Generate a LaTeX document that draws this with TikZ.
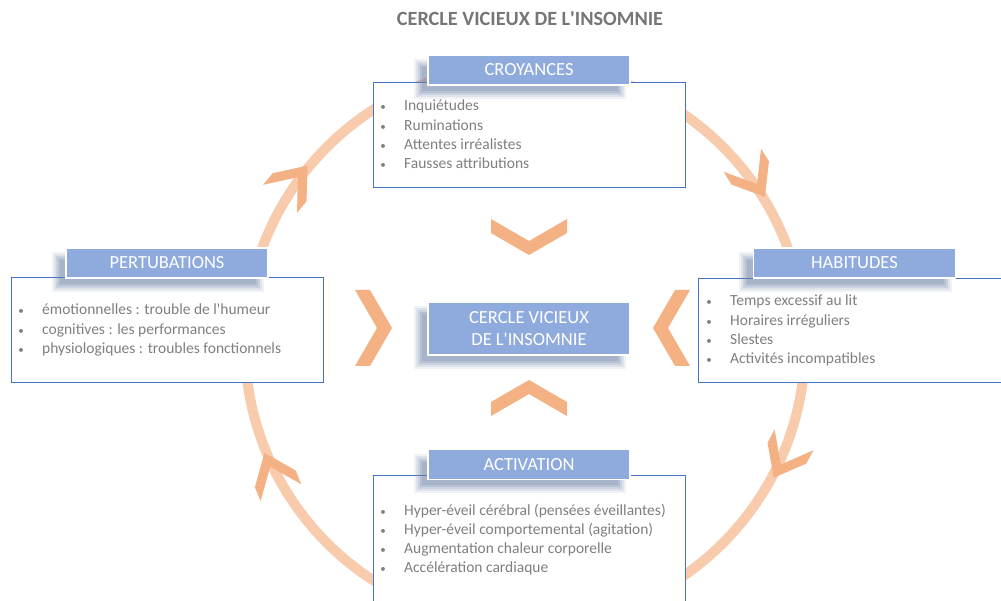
\documentclass[tikz,border=0pt]{standalone}
\usepackage{fontspec}
\setmainfont{Carlito}
\usetikzlibrary{calc}
\definecolor{ringc}{HTML}{F8CBAD}
\definecolor{chevc}{HTML}{F4B183}
\definecolor{headc}{HTML}{8FAADC}
\definecolor{bordc}{HTML}{4472C4}
\definecolor{txtc}{HTML}{7F7F7F}
\definecolor{titc}{HTML}{767676}
\definecolor{shadc}{HTML}{7385AA}
\newcommand\softshadow[4]{%
  \foreach \e/\o in {5/0.10,3/0.14,1/0.18,-1/0.22,-3/0.22}{%
    \fill[shadc,opacity=\o] ({#1-\e},{#2-\e}) rectangle ({#3+\e},{#4+\e});}}
\begin{document}
\begin{tikzpicture}[x=1pt,y=-1pt,
  header/.style={draw=white,line width=1.2pt,fill=headc,text=white,
    font=\fontsize{18.5}{22}\selectfont,inner sep=0pt,minimum width=202pt,minimum height=30pt},
  bodybox/.style={draw=bordc,line width=1pt,fill=white,inner sep=0pt,anchor=north west},
  item/.style={font=\fontsize{15.5}{19}\selectfont,text=txtc,inner sep=0pt,anchor=base west},
  bul/.style={font=\fontsize{11}{13}\selectfont,text=txtc,inner sep=0pt,anchor=base},
  chevron/.style={fill=chevc}]
\useasboundingbox (0,0) rectangle (1001,601);
\clip (0,0) rectangle (1001,601);
\fill[white] (0,0) rectangle (1001,601);
% ring
\coordinate (O) at (525,345);
\draw[ringc,line width=10pt] (O) circle[radius=280];
% chevrons on the ring
\foreach \p in {-140.5,-31.7,28.1,157.5}{
  \coordinate (T) at ($(O)+(\p:282)$);
  \fill[chevron] (T) -- ($(T)+(\p-90:28)+(\p:22)$) -- ($(T)+(\p-90:43)+(\p:22)$)
    -- ($(T)+(\p-90:15)$) -- ($(T)+(\p-90:43)+(\p:-22)$) -- ($(T)+(\p-90:28)+(\p:-22)$) -- cycle;
}
% central chevrons
\fill[chevron] (491,219) -- (529,241) -- (567,219) -- (567,233) -- (529,255) -- (491,233) -- cycle;
\fill[chevron] (491,416) -- (529,394) -- (567,416) -- (567,402) -- (529,380) -- (491,402) -- cycle;
\fill[chevron] (355,290) -- (370,290) -- (392,328) -- (370,366) -- (355,366) -- (377,328) -- cycle;
\fill[chevron] (690,290) -- (675,290) -- (653,328) -- (675,366) -- (690,366) -- (668,328) -- cycle;
% title
\node[font=\fontsize{20.2}{24}\selectfont\bfseries,text=titc,inner sep=0pt] (title) at (530,19)
  {CERCLE VICIEUX DE L\textquotesingle INSOMNIE};
% body boxes
\node[bodybox,minimum width=312pt,minimum height=105pt] (bcr) at (373,82) {};
\node[bodybox,minimum width=312pt,minimum height=105pt] (bpe) at (11,277) {};
\node[bodybox,minimum width=320pt,minimum height=104pt] (bha) at (698,278) {};
\node[bodybox,minimum width=312pt,minimum height=140pt] (bac) at (373,475) {};
% shadows
\softshadow{419}{64}{621}{94}
\softshadow{57}{257}{259}{287}
\softshadow{744}{257}{947}{287}
\softshadow{419}{459}{621}{488}
\softshadow{419}{311}{621}{364}
% headers
\node[header] (hcr) at (529,70) {CROYANCES};
\node[header] (hpe) at (167,263) {PERTUBATIONS};
\node[header] (hha) at (854.5,263) {HABITUDES};
\node[header] (hac) at (529,464.5) {ACTIVATION};
\node[header,minimum height=53pt,align=center] (ctr) at (529,328.5)
  {CERCLE VICIEUX\\DE L\textquotesingle INSOMNIE};
% items
\foreach \t [count=\i] in {{Inquiétudes},{Ruminations},{Attentes irréalistes},{Fausses attributions}}{
  \node[bul] (crb\i) at (383,{111+19.3*(\i-1)}) {•};
  \node[item] (cr\i) at (404,{111+19.3*(\i-1)}) {\t};
}
\foreach \t [count=\i] in {{émotionnelles : trouble de l\textquotesingle humeur},{cognitives : les performances},{physiologiques : troubles fonctionnels}}{
  \node[bul] (peb\i) at (21,{315+19.3*(\i-1)}) {•};
  \node[item] (pe\i) at (42,{315+19.3*(\i-1)}) {\t};
}
\foreach \t [count=\i] in {{Temps excessif au lit},{Horaires irréguliers},{Slestes},{Activités incompatibles}}{
  \node[bul] (hab\i) at (709,{306+19.3*(\i-1)}) {•};
  \node[item] (ha\i) at (730,{306+19.3*(\i-1)}) {\t};
}
\foreach \t [count=\i] in {{Hyper-éveil cérébral (pensées éveillantes)},{Hyper-éveil comportemental (agitation)},{Augmentation chaleur corporelle},{Accélération cardiaque}}{
  \node[bul] (acb\i) at (383,{515+19.3*(\i-1)}) {•};
  \node[item] (ac\i) at (404,{515+19.3*(\i-1)}) {\t};
}
\end{tikzpicture}
\end{document}
